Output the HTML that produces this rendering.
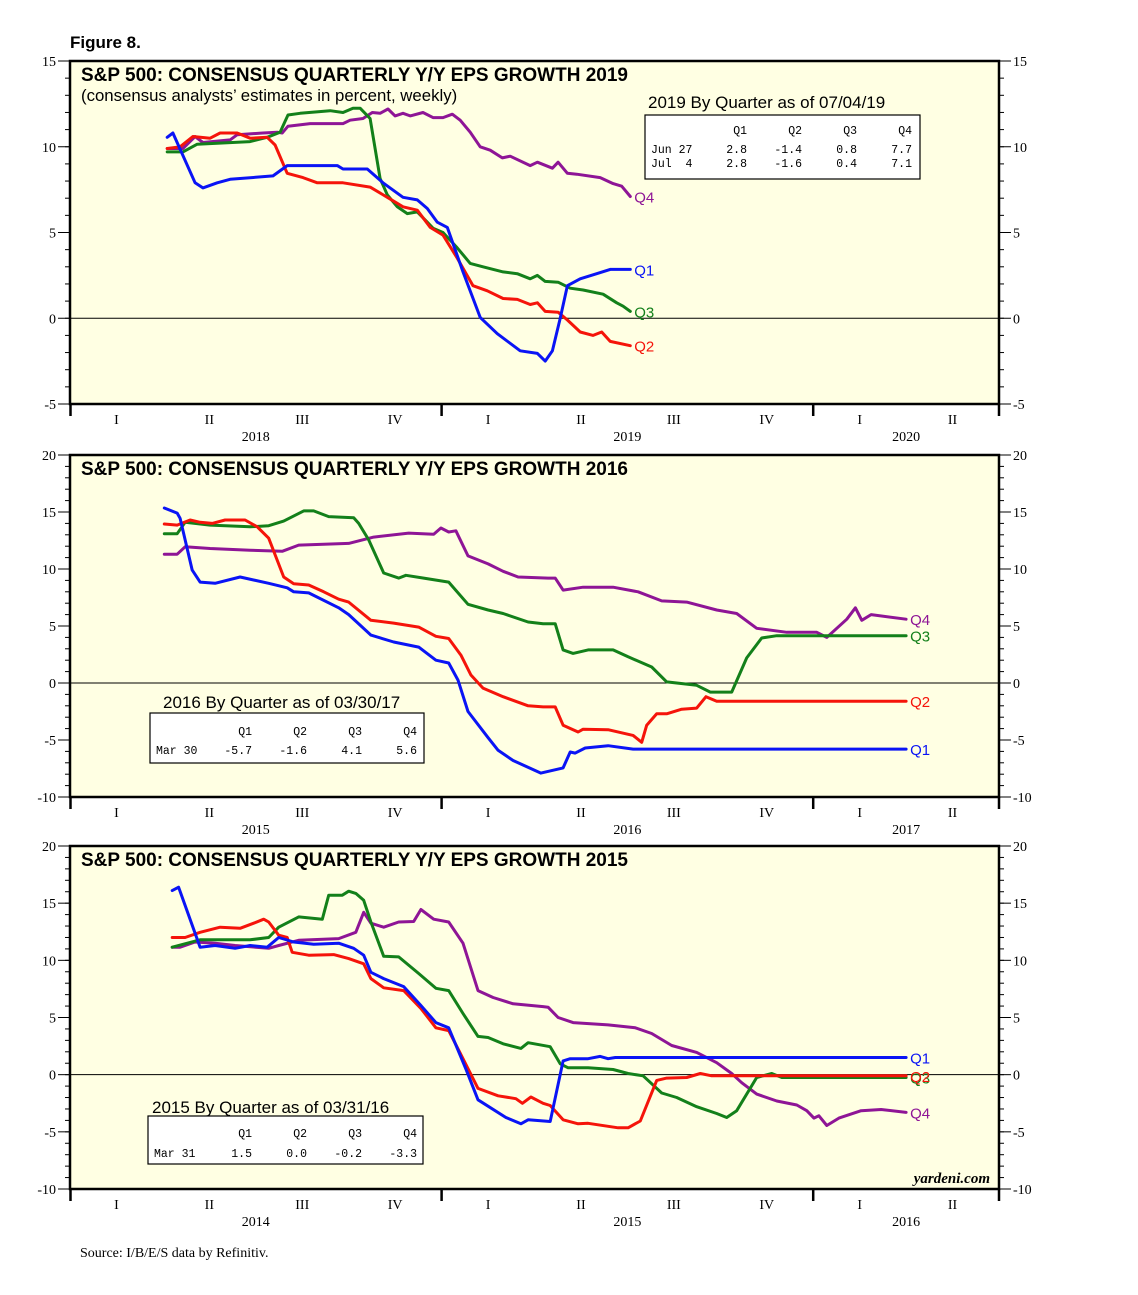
<!DOCTYPE html>
<html><head><meta charset="utf-8">
<style>
html,body{margin:0;padding:0;background:#fff;width:1138px;height:1295px;overflow:hidden;}
svg{display:block;}
</style></head>
<body>
<svg id="fig" width="1138" height="1295" viewBox="0 0 1138 1295" xmlns="http://www.w3.org/2000/svg">
<text x="70" y="48" font-family="Liberation Sans, sans-serif" font-weight="bold" font-size="17">Figure 8.</text>
<text x="80" y="1257" font-family="Liberation Serif, serif" font-size="14">Source: I/B/E/S data by Refinitiv.</text>
</svg>
<script>
// ---------- Panel 1 (2019) : weeks since axis start, values in % ----------
const p1Q1Weeks=[13.6,14.4,17.5,18.6,20.6,22.4,28.4,30.4,37.4,38.2,41.6,43.8,46.6,48.6,50.0,51.4,52.8,55.0,57.4,59.8,63.0,65.4,66.5,67.5,68.6,69.6,71.4,73.7,75.6,78.4];
const p1Q1Values=[10.55,10.8,7.9,7.6,7.9,8.1,8.3,8.9,8.9,8.7,8.7,7.9,7.05,6.9,6.4,5.6,5.3,2.7,0.05,-0.9,-1.9,-2.05,-2.5,-1.9,0,1.9,2.3,2.6,2.85,2.85];
const p1Q2Weeks=[13.6,15.4,17.2,19.6,21.0,23.4,25.2,27.6,28.7,30.4,32.6,34.6,38.2,42.0,44.4,46.6,48.6,50.4,52.2,54.2,56.4,58.4,60.6,62.6,64.4,65.4,66.5,68.3,69.6,71.4,73.2,74.4,75.6,78.4];
const p1Q2Values=[9.9,10.0,10.6,10.5,10.8,10.8,10.5,10.55,10.1,8.45,8.2,7.9,7.9,7.65,7.05,6.5,6.3,5.3,4.85,3.5,1.9,1.6,1.15,1.1,0.8,0.9,0.4,0.35,-0.1,-0.8,-1.0,-0.8,-1.35,-1.6];
const p1Q3Weeks=[13.6,15.8,17.8,20.6,25.2,27.6,29.4,30.5,32.2,36.4,38.2,39.6,40.6,42.0,43.4,44.4,45.8,47.2,48.6,50.0,50.8,52.2,54.2,56.0,57.8,60.6,62.6,64.4,65.4,66.5,68.3,70.0,71.8,74.6,76.5,77.4,78.4];
const p1Q3Values=[9.7,9.7,10.15,10.2,10.3,10.55,10.85,11.85,11.95,12.1,12.0,12.25,12.25,11.65,8.15,7.2,6.5,6.1,6.2,5.6,5.25,5.0,4.1,3.2,3.0,2.7,2.6,2.3,2.5,2.15,2.1,1.75,1.65,1.4,0.9,0.7,0.4];
const p1Q4Weeks=[13.6,15.8,17.5,18.6,22.4,23.4,27.0,29.0,29.7,30.5,33.6,38.2,39.2,41.0,42.3,43.4,44.5,45.5,46.6,47.6,49.4,50.8,52.2,53.5,54.6,56.0,57.4,58.8,60.5,61.6,64.4,65.4,67.5,68.3,69.6,70.9,74.2,76.0,77.2,78.4];
const p1Q4Values=[9.9,9.9,10.6,10.25,10.4,10.7,10.8,10.85,10.8,11.2,11.35,11.35,11.55,11.65,12.0,11.95,12.2,11.8,11.95,11.8,12.0,11.7,11.7,11.9,11.55,10.85,10.0,9.8,9.35,9.45,8.9,9.1,8.75,9.1,8.45,8.4,8.2,7.85,7.7,7.1];

// ---------- Panel 2 (2016) ----------
const p2Q1Weeks=[13.2,15.0,15.4,17.1,18.2,20.3,23.8,27.8,30.4,31.3,33.4,37.6,39.0,42.1,45.3,48.8,51.2,53.0,54.3,55.7,58.5,59.9,62.0,65.9,69.0,70.0,70.7,72.1,75.3,78.8,117.0];
const p2Q1Values=[15.35,14.9,14.45,9.9,8.85,8.75,9.3,8.75,8.35,8.0,7.9,6.6,6.0,4.2,3.6,3.15,2.0,1.75,0.25,-2.5,-4.8,-5.9,-6.8,-7.9,-7.45,-6.05,-6.15,-5.7,-5.5,-5.8,-5.8];
const p2Q2Weeks=[13.2,15.0,16.8,18.2,19.9,21.7,24.5,26.2,27.8,29.9,31.3,33.4,35.5,37.6,39.0,42.1,45.3,48.8,51.2,53.0,54.7,56.1,57.8,60.6,64.1,66.2,67.9,69.0,71.1,71.8,75.3,78.8,80.0,80.7,82.1,83.5,85.6,87.7,89.0,90.5,117.0];
const p2Q2Values=[13.95,13.85,14.3,14.1,14.0,14.3,14.3,13.7,12.7,9.3,8.7,8.6,8.0,7.35,7.1,5.5,5.25,4.9,4.1,3.9,2.45,0.7,-0.45,-1.2,-2.0,-2.1,-2.1,-3.7,-4.3,-4.05,-4.1,-4.6,-5.2,-3.7,-2.7,-2.7,-2.3,-2.2,-1.2,-1.6,-1.6];
const p2Q3Weeks=[13.2,15.0,16.1,19.6,25.2,27.8,29.9,32.7,34.1,36.2,39.7,40.4,41.8,43.9,46.0,47.0,49.5,53.0,55.7,58.5,60.6,64.1,66.2,67.9,69.0,70.4,72.5,76.0,78.1,81.4,83.5,87.7,89.6,92.6,94.7,96.8,98.9,101.7,117.0];
const p2Q3Values=[13.1,13.1,14.1,13.85,13.7,13.8,14.2,15.1,15.1,14.6,14.5,14.0,12.55,9.65,9.2,9.45,9.2,8.85,6.9,6.4,6.1,5.35,5.2,5.2,2.9,2.6,2.9,2.9,2.3,1.4,0.1,-0.2,-0.8,-0.8,2.2,3.95,4.15,4.15,4.15];
const p2Q4Weeks=[13.2,15.0,16.1,19.6,25.2,29.7,32.0,39.0,42.5,47.4,50.9,51.9,53.0,54.0,55.7,58.5,60.6,62.7,66.9,67.9,69.0,71.8,76.0,79.5,82.8,86.3,90.5,93.3,96.1,100.3,104.5,105.9,108.7,109.9,110.8,112.1,117.0];
const p2Q4Values=[11.3,11.3,11.95,11.8,11.65,11.55,12.1,12.25,12.8,13.15,13.05,13.6,13.25,13.35,11.15,10.45,9.8,9.3,9.2,9.2,8.15,8.4,8.4,8.0,7.2,7.1,6.4,6.1,4.8,4.45,4.45,4.0,5.6,6.6,5.5,6.0,5.6];

// ---------- Panel 3 (2015) ----------
const p3Q1Weeks=[14.3,15.2,18.2,20.3,23.1,25.2,27.6,29.2,31.3,34.1,37.6,39.7,41.1,42.1,43.9,46.7,49.1,51.2,53.0,55.4,57.1,61.0,63.1,64.1,67.2,69.0,70.0,72.5,74.2,75.3,76.3,117.0];
const p3Q1Values=[16.1,16.4,11.15,11.3,11.05,11.3,11.15,12.0,11.6,11.4,11.5,11.05,10.45,8.95,8.4,7.7,6.05,4.55,4.1,0.5,-2.2,-3.75,-4.3,-3.95,-4.1,1.2,1.4,1.4,1.6,1.4,1.5,1.5];
const p3Q2Weeks=[14.3,16.1,18.2,21.0,23.8,25.7,27.1,27.8,29.2,30.4,31.1,33.4,36.9,39.0,41.1,42.1,43.9,46.7,49.1,51.2,53.0,55.0,57.1,59.9,62.4,63.3,64.5,66.2,67.2,69.0,71.1,72.5,76.7,78.1,79.8,82.1,83.5,86.3,88.2,89.8,117.0];
const p3Q2Values=[12.0,12.0,12.45,12.9,12.8,13.25,13.6,13.35,12.2,12.0,10.7,10.45,10.5,10.15,9.7,8.4,7.6,7.35,5.8,4.1,3.85,1.4,-1.2,-1.85,-2.1,-2.5,-1.95,-2.5,-2.7,-3.95,-4.3,-4.25,-4.65,-4.65,-4.05,-0.5,-0.3,-0.25,0.1,-0.1,-0.1];
const p3Q3Weeks=[14.3,18.2,25.2,27.8,29.2,32.0,35.3,36.2,38.1,39.0,40.0,41.1,42.1,43.9,46.0,48.8,51.2,53.0,55.0,57.1,58.5,60.6,63.1,64.1,67.2,68.6,69.7,72.5,76.0,78.1,80.2,82.8,84.9,87.7,90.5,91.9,93.3,96.1,98.2,99.6,103.1,117.0];
const p3Q3Values=[11.15,11.8,11.8,12.0,12.9,13.8,13.6,15.7,15.7,16.05,15.85,15.25,13.35,10.35,10.3,8.85,7.55,7.35,5.35,3.35,3.25,2.7,2.3,2.8,2.45,0.95,0.6,0.6,0.45,0.1,-0.1,-1.6,-2.0,-2.8,-3.4,-3.75,-3.15,-0.25,0.1,-0.25,-0.25,-0.25];
const p3Q4Weeks=[14.3,15.4,17.5,20.3,23.1,27.8,29.2,32.0,37.6,40.0,41.1,42.1,43.9,46.0,48.1,49.1,50.9,53.0,55.0,57.1,59.2,62.0,66.2,66.9,68.3,70.4,75.3,79.1,81.4,84.2,87.7,90.5,92.6,94.0,96.1,98.9,101.7,103.1,104.1,104.8,105.9,107.6,110.7,113.5,117.0];
const p3Q4Values=[11.15,11.15,11.6,11.5,11.3,11.05,11.3,11.75,11.9,12.45,14.2,13.25,12.9,13.35,13.4,14.45,13.6,13.35,11.5,7.35,6.75,6.2,5.95,5.9,5.0,4.55,4.35,4.1,3.6,2.55,1.95,1.05,0.1,-0.7,-1.7,-2.3,-2.65,-3.15,-3.8,-3.6,-4.45,-3.8,-3.15,-3.05,-3.3];

const quarterLabels=['I','II','III','IV','I','II','III','IV','I','II'];
const yearWeeks=[26,78,117];
const p1Years=['2018','2019','2020'];
const p2Years=['2015','2016','2017'];
const p3Years=['2014','2015','2016'];
const yTicks1=[15,10,5,0,-5];
const yTicks23=[20,15,10,5,0,-5,-10];
const tableHeaders=['Q1','Q2','Q3','Q4'];
const p1Rows=['Jun 27','Jul  4'];
const p1Table=[['2.8','-1.4','0.8','7.7'],['2.8','-1.6','0.4','7.1']];
const p2Rows=['Mar 30'];
const p2Table=[['-5.7','-1.6','4.1','5.6']];
const p3Rows=['Mar 31'];
const p3Table=[['1.5','0.0','-0.2','-3.3']];

const NS='http://www.w3.org/2000/svg';
const svg=document.getElementById('fig');
const COLORS={Q1:'#0a14f5',Q2:'#f5140a',Q3:'#13801a',Q4:'#8e1596'};
const X0=70,X1=999,TOTALW=130;
function mk(tag,attrs,parent){const e=document.createElementNS(NS,tag);for(const k in attrs)e.setAttribute(k,attrs[k]);(parent||svg).appendChild(e);return e;}
function xs(w){return X0+(X1-X0)*w/TOTALW;}

function drawPanel(p){
  const g=mk('g',{});
  
  
  const ys=v=>p.top+(p.max-v)*(p.bot-p.top)/(p.max-p.min);
  const bg=mk('rect',{x:X0,y:p.top,width:X1-X0,height:p.bot-p.top,fill:'#ffffe3'},g);
  
  
  for(let v=p.min;v<=p.max;v++){
    const y=ys(v);
    mk('line',{x1:X0-5,x2:X0,y1:y,y2:y,stroke:'#000','stroke-width':1},g);
    mk('line',{x1:X1,x2:X1+5,y1:y,y2:y,stroke:'#000','stroke-width':1},g);
  }
  p.ticks.forEach(v=>{
    const y=ys(v);
    mk('line',{x1:X0-12,x2:X0,y1:y,y2:y,stroke:'#000','stroke-width':1},g);
    mk('line',{x1:X1,x2:X1+12,y1:y,y2:y,stroke:'#000','stroke-width':1},g);
    const tl=mk('text',{x:X0-14,y:y+5,'text-anchor':'end','font-family':'Liberation Serif, serif','font-size':14},g);
    tl.textContent=v;
    
    
    const tr=mk('text',{x:X1+14,y:y+5,'text-anchor':'start','font-family':'Liberation Serif, serif','font-size':14},g);
    tr.textContent=v;
    
    
  });
  const z=mk('line',{x1:X0,x2:X1,y1:ys(0),y2:ys(0),stroke:'#000','stroke-width':1},g);
  
  
  quarterLabels.forEach((q,i)=>{
    const t=mk('text',{x:xs(13*i+6.5),y:p.bot+20,'text-anchor':'middle','font-family':'Liberation Serif, serif','font-size':14},g);
    t.textContent=q;
    
    
  });
  [1,2].forEach(k=>{mk('line',{x1:xs(52*k),x2:xs(52*k),y1:p.bot,y2:p.bot+12,stroke:'#000','stroke-width':2.5},g);});
  mk('line',{x1:X0+0.5,x2:X0+0.5,y1:p.bot,y2:p.bot+12,stroke:'#000','stroke-width':2.5},g);
  mk('line',{x1:X1,x2:X1,y1:p.bot,y2:p.bot+12,stroke:'#000','stroke-width':2.5},g);
  p.years.forEach((yr,i)=>{
    const t=mk('text',{x:xs(yearWeeks[i]),y:p.bot+37,'text-anchor':'middle','font-family':'Liberation Serif, serif','font-size':14},g);
    t.textContent=yr;
    
    
  });
  p.series.forEach(s=>{
    const d=s.w.map((w,i)=>(i?'L':'M')+xs(w).toFixed(1)+','+ys(s.v[i]).toFixed(1)).join(' ');
    const path=mk('path',{d:d,fill:'none',stroke:COLORS[s.k],'stroke-width':3,'stroke-linejoin':'round','stroke-linecap':'round'},g);
    
    
    const lw=s.w[s.w.length-1], lv=s.v[s.v.length-1];
    const lab=mk('text',{x:xs(lw)+4,y:ys(lv)+6,'font-family':'Liberation Sans, sans-serif','font-size':15,fill:COLORS[s.k]},g);
    lab.textContent=s.k;
    
    
  });
  const fr=mk('rect',{x:X0,y:p.top,width:X1-X0,height:p.bot-p.top,fill:'none',stroke:'#000','stroke-width':2.5},g);
  
  
  const ti=mk('text',{x:81,y:p.top+20,'font-family':'Liberation Sans, sans-serif','font-weight':'bold','font-size':19},g);
  ti.textContent=p.title;
  
  
  const tb=p.table;
  const tt=mk('text',{x:tb.tx,y:tb.ty,'font-family':'Liberation Sans, sans-serif','font-size':17},g);
  tt.textContent=tb.title;
  
  
  const box=mk('rect',{x:tb.x,y:tb.y,width:tb.w,height:tb.h,fill:'#fff',stroke:'#000','stroke-width':1.2},g);
  
  
  tableHeaders.forEach((h,j)=>{
    const t=mk('text',{x:tb.x+tb.cols[j],y:tb.y+tb.hy,'text-anchor':'end','font-family':'Liberation Mono, monospace','font-size':11.5},g);
    t.textContent=h;
    
    
  });
  tb.rows.forEach((r,i)=>{
    const t=mk('text',{x:tb.x+6,y:tb.y+tb.ry+14*i,'font-family':'Liberation Mono, monospace','font-size':11.5},g);
    t.setAttribute('style','white-space:pre');
    t.textContent=r;
    
    
    tb.vals[i].forEach((v,j)=>{
      const c=mk('text',{x:tb.x+tb.cols[j],y:tb.y+tb.ry+14*i,'text-anchor':'end','font-family':'Liberation Mono, monospace','font-size':11.5},g);
      c.textContent=v;
      
      
    });
  });
  return {g,ys};
}

drawPanel({name:'panel-2019',top:61,bot:404,min:-5,max:15,ticks:yTicks1,years:p1Years,
 title:'S&P 500: CONSENSUS QUARTERLY Y/Y EPS GROWTH 2019',
 series:[{k:'Q4',w:p1Q4Weeks,v:p1Q4Values},{k:'Q3',w:p1Q3Weeks,v:p1Q3Values},{k:'Q2',w:p1Q2Weeks,v:p1Q2Values},{k:'Q1',w:p1Q1Weeks,v:p1Q1Values}],
 table:{title:'2019 By Quarter as of 07/04/19',tx:648,ty:108,x:645,y:115,w:275,h:64,cols:[102,157,212,267],hy:19,ry:38,rows:p1Rows,vals:p1Table}});
const sub=mk('text',{x:81,y:101,'font-family':'Liberation Sans, sans-serif','font-size':16.8});
sub.textContent='(consensus analysts\u2019 estimates in percent, weekly)';



drawPanel({name:'panel-2016',top:455,bot:797,min:-10,max:20,ticks:yTicks23,years:p2Years,
 title:'S&P 500: CONSENSUS QUARTERLY Y/Y EPS GROWTH 2016',
 series:[{k:'Q4',w:p2Q4Weeks,v:p2Q4Values},{k:'Q3',w:p2Q3Weeks,v:p2Q3Values},{k:'Q2',w:p2Q2Weeks,v:p2Q2Values},{k:'Q1',w:p2Q1Weeks,v:p2Q1Values}],
 table:{title:'2016 By Quarter as of 03/30/17',tx:163,ty:708,x:150,y:713,w:274,h:50,cols:[102,157,212,267],hy:22,ry:41,rows:p2Rows,vals:p2Table}});

drawPanel({name:'panel-2015',top:846,bot:1189,min:-10,max:20,ticks:yTicks23,years:p3Years,
 title:'S&P 500: CONSENSUS QUARTERLY Y/Y EPS GROWTH 2015',
 series:[{k:'Q4',w:p3Q4Weeks,v:p3Q4Values},{k:'Q3',w:p3Q3Weeks,v:p3Q3Values},{k:'Q2',w:p3Q2Weeks,v:p3Q2Values},{k:'Q1',w:p3Q1Weeks,v:p3Q1Values}],
 table:{title:'2015 By Quarter as of 03/31/16',tx:152,ty:1113,x:148,y:1116,w:275,h:48,cols:[104,159,214,269],hy:21,ry:41,rows:p3Rows,vals:p3Table}});

const yd=mk('text',{x:990,y:1183,'text-anchor':'end','font-family':'Liberation Serif, serif','font-style':'italic','font-weight':'bold','font-size':15});
yd.textContent='yardeni.com';


</script>
</body></html>
